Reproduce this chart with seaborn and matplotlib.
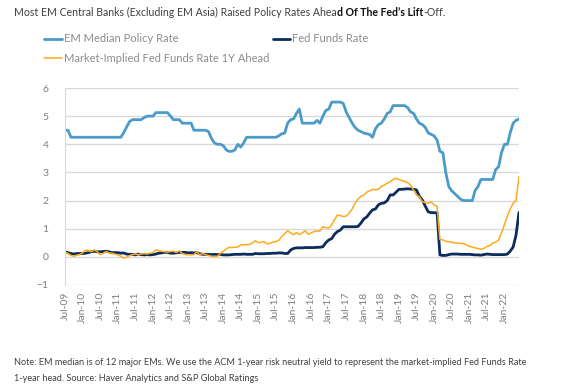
import numpy as np
import pandas as pd
import matplotlib
matplotlib.use('Agg')
import matplotlib.pyplot as plt
import matplotlib.dates as mdates
import seaborn as sns

# monthly, Jul-09 .. Jun-22
start_month = '2009-07-01'

em_median = [
    4.5, 4.5, 4.25, 4.25, 4.25, 4.25,                                   # 2009 H2
    4.25, 4.25, 4.25, 4.25, 4.25, 4.25, 4.25, 4.25, 4.25, 4.25, 4.25, 4.25,  # 2010
    4.25, 4.25, 4.4, 4.6, 4.8, 4.875, 4.875, 4.875, 4.875, 4.95, 5.0, 5.0,  # 2011
    5.0, 5.125, 5.125, 5.125, 5.125, 5.125, 5.0, 4.875, 4.875, 4.875, 4.75, 4.75,  # 2012
    4.75, 4.75, 4.5, 4.5, 4.5, 4.5, 4.5, 4.45, 4.2, 4.05, 4.0, 4.0,   # 2013
    3.95, 3.8, 3.75, 3.75, 3.8, 4.0, 3.9, 4.05, 4.25, 4.25, 4.25, 4.25,  # 2014
    4.25, 4.25, 4.25, 4.25, 4.25, 4.25, 4.25, 4.3, 4.375, 4.4, 4.75, 4.875,  # 2015
    4.9, 5.1, 5.25, 4.75, 4.75, 4.75, 4.75, 4.75, 4.85, 4.75, 5.0, 5.2,  # 2016
    5.25, 5.5, 5.5, 5.5, 5.5, 5.45, 5.15, 4.95, 4.75, 4.6, 4.5, 4.45,  # 2017
    4.4, 4.375, 4.35, 4.25, 4.55, 4.7, 4.75, 4.9, 5.1, 5.15, 5.375, 5.375,  # 2018
    5.375, 5.375, 5.375, 5.3, 5.15, 5.1, 4.9, 4.75, 4.7, 4.6, 4.4, 4.35,  # 2019
    4.3, 4.15, 3.75, 3.7, 3.0, 2.5, 2.35, 2.25, 2.15, 2.05, 2.0, 2.0,  # 2020
    2.0, 2.0, 2.35, 2.5, 2.75, 2.75, 2.75, 2.75, 2.75, 3.1, 3.2, 3.7,  # 2021
    4.0, 4.0, 4.4, 4.75, 4.85, 4.9,                                     # 2022 H1
]

fed_funds = [
    0.18, 0.15, 0.12, 0.1, 0.12, 0.12,
    0.12, 0.13, 0.15, 0.18, 0.2, 0.18, 0.18, 0.19, 0.2, 0.18, 0.15, 0.15,
    0.15, 0.13, 0.14, 0.1, 0.09, 0.09, 0.07, 0.1, 0.08, 0.07, 0.08, 0.07,
    0.08, 0.1, 0.13, 0.14, 0.16, 0.16, 0.13, 0.13, 0.14, 0.16, 0.16, 0.16,
    0.14, 0.15, 0.14, 0.15, 0.11, 0.09, 0.09, 0.09, 0.08, 0.09, 0.08, 0.09,
    0.07, 0.07, 0.07, 0.08, 0.09, 0.09, 0.09, 0.1, 0.09, 0.09, 0.09, 0.12,
    0.11, 0.11, 0.11, 0.12, 0.12, 0.13, 0.13, 0.14, 0.14, 0.12, 0.12, 0.24,
    0.3, 0.32, 0.32, 0.32, 0.33, 0.33, 0.33, 0.33, 0.34, 0.34, 0.36, 0.5,
    0.6, 0.65, 0.8, 0.9, 0.95, 1.07, 1.07, 1.07, 1.07, 1.07, 1.08, 1.2,
    1.35, 1.42, 1.55, 1.67, 1.7, 1.85, 1.9, 1.92, 2.0, 2.2, 2.2, 2.3,
    2.4, 2.4, 2.41, 2.42, 2.41, 2.4, 2.38, 2.15, 2.02, 1.8, 1.6, 1.57,
    1.57, 1.56, 0.07, 0.05, 0.05, 0.08, 0.1, 0.1, 0.1, 0.09, 0.09, 0.09,
    0.09, 0.08, 0.07, 0.07, 0.06, 0.08, 0.1, 0.09, 0.08, 0.08, 0.08, 0.08,
    0.08, 0.1, 0.2, 0.35, 0.77, 1.58,
]

implied_1y = [
    0.18, 0.12, 0.05, 0.02, 0.06, 0.08,
    0.15, 0.24, 0.22, 0.18, 0.25, 0.18, 0.08, 0.12, 0.19, 0.14, 0.13, 0.1,
    0.07, 0.02, -0.04, -0.02, 0.04, 0.08, 0.1, 0.08, 0.1, 0.12, 0.1, 0.13,
    0.15, 0.25, 0.22, 0.2, 0.18, 0.17, 0.19, 0.2, 0.15, 0.22, 0.12, 0.08,
    0.08, 0.07, 0.08, 0.18, 0.07, 0.12, 0.08, 0.05, 0.02, 0.01, 0.02, 0.12,
    0.2, 0.28, 0.34, 0.33, 0.34, 0.35, 0.42, 0.43, 0.43, 0.44, 0.5, 0.57,
    0.5, 0.52, 0.54, 0.46, 0.48, 0.52, 0.54, 0.59, 0.72, 0.82, 0.93, 0.85,
    0.79, 0.86, 0.79, 0.85, 0.93, 0.8, 0.85, 0.9, 0.92, 0.92, 1.07, 1.04,
    1.02, 1.15, 1.31, 1.49, 1.47, 1.43, 1.45, 1.55, 1.7, 1.9, 2.05, 2.15,
    2.2, 2.3, 2.35, 2.4, 2.38, 2.4, 2.5, 2.55, 2.62, 2.67, 2.75, 2.79,
    2.75, 2.71, 2.68, 2.64, 2.55, 2.38, 2.2, 2.14, 1.96, 1.93, 1.9, 1.96,
    1.84, 1.8, 0.62, 0.6, 0.55, 0.54, 0.52, 0.49, 0.49, 0.48, 0.47, 0.43,
    0.37, 0.35, 0.32, 0.3, 0.27, 0.3, 0.37, 0.4, 0.49, 0.52, 0.6, 0.85,
    1.15, 1.45, 1.7, 1.9, 2.0, 2.85,
]

series_names = ['EM Median Policy Rate', 'Fed Funds Rate',
                'Market-Implied Fed Funds Rate 1Y Ahead']
y_ticks = [-1, 0, 1, 2, 3, 4, 5, 6]

title_parts = ['Most EM Central Banks (Excluding EM Asia) Raised Policy Rates Ahea',
               'd Of The Fed\u2019s Lift', '-Off.']
note = ('Note: EM median is of 12 major EMs. We use the ACM 1-year risk neutral yield '
        'to represent the market-implied Fed Funds Rate\n'
        '1-year head. Source: Haver Analytics and S&P Global Ratings')

dates = pd.date_range(start_month, periods=len(em_median), freq='MS')
df = pd.DataFrame({'date': dates,
                   series_names[0]: em_median,
                   series_names[1]: fed_funds,
                   series_names[2]: implied_1y})

sns.set_style('white')
plt.rcParams['font.family'] = ['Lato', 'DejaVu Sans']

fig = plt.figure(figsize=(5.78, 3.9), dpi=100)
ax = fig.add_axes([65 / 578, 1 - 285 / 390, (519 - 65) / 578, (285 - 88) / 390])

colors = {series_names[0]: '#4b9bc8',
          series_names[1]: '#0c2c5c',
          series_names[2]: '#ffaa1c'}
widths = {series_names[0]: 2.0, series_names[1]: 2.0, series_names[2]: 1.1}

for name in series_names:
    sns.lineplot(data=df, x='date', y=name, ax=ax, color=colors[name],
                 linewidth=widths[name], label=name, legend=False)

ax.set_ylim(-1, 6)
ax.set_yticks(y_ticks)
ax.set_xlim(dates[0], dates[-1])
ax.set_xticks(dates[::6])
ax.xaxis.set_major_formatter(mdates.DateFormatter('%b-%y'))
ax.set_xlabel('')
ax.set_ylabel('')
ax.grid(axis='y', color='#d9d9d9', linewidth=1)
ax.grid(axis='x', visible=False)
for s in ['top', 'right', 'bottom']:
    ax.spines[s].set_visible(False)
ax.spines['left'].set_color('#d9d9d9')
ax.tick_params(axis='y', length=0, pad=12, labelsize=7.5, labelcolor='#7f7f7f')
ax.tick_params(axis='x', length=0, pad=5, labelsize=7.5, labelcolor='#7f7f7f',
               rotation=90)

# legend: two columns, filled row by row
handles, labels = ax.get_legend_handles_labels()
order = [0, 2, 1]
leg = fig.legend([handles[i] for i in order], [labels[i] for i in order],
                 loc='upper left', bbox_to_anchor=(40 / 578, 1 - 29 / 390),
                 ncol=2, frameon=False, fontsize=8, handlelength=1.6,
                 handletextpad=0.15, columnspacing=0.3, labelspacing=0.75,
                 borderaxespad=0)
for t in leg.get_texts():
    t.set_color('#8c8c8c')

# title with a bold middle piece
t1 = fig.text(14 / 578, 1 - 12 / 390, title_parts[0], fontsize=7.6,
              color='#404040', va='center')
t2 = ax.annotate(title_parts[1], xy=(1, 0), xycoords=t1, va='bottom',
                 fontsize=7.6, color='#111111', fontweight='bold',
                 annotation_clip=False)
ax.annotate(title_parts[2], xy=(1, 0), xycoords=t2, va='bottom',
            fontsize=7.6, color='#404040', annotation_clip=False)

fig.text(14 / 578, 1 - 358 / 390, note, fontsize=6.6, color='#404040',
         va='top', linespacing=1.95)

fig.savefig('out.png', dpi=100)
